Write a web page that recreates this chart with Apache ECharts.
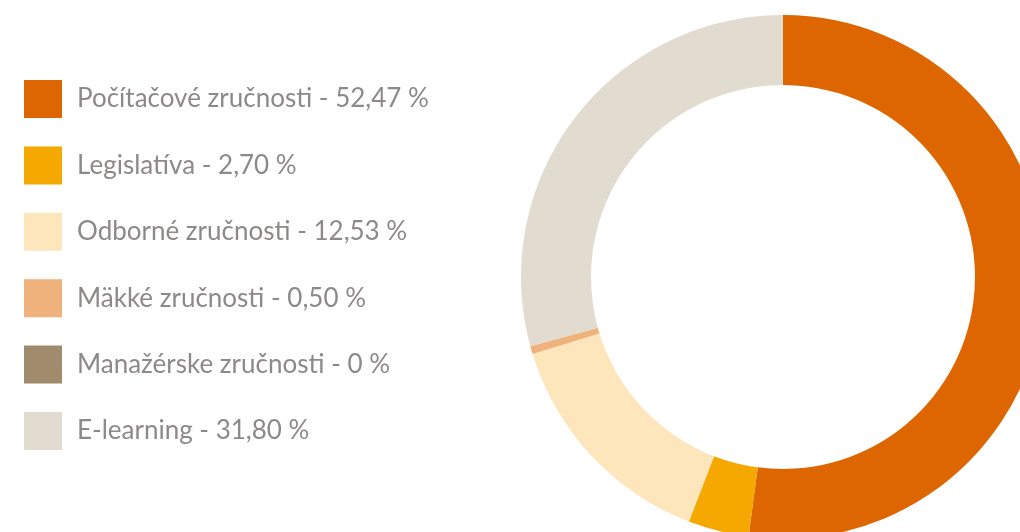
<!DOCTYPE html>
<html>
<head>
<meta charset="utf-8">
<script src="https://cdn.jsdelivr.net/npm/echarts@6/dist/echarts.min.js"></script>
<style>
html,body{margin:0;padding:0;background:#fff;}
#chart{width:1020px;height:532px;}
</style>
</head>
<body>
<div id="chart"></div>
<script>
var names = ['Počítačové zručnosti', 'Legislatíva', 'Odborné zručnosti', 'Mäkké zručnosti', 'Manažérske zručnosti', 'E-learning'];
// percentages as printed in the legend
var labelPercents = ['52,47', '2,70', '12,53', '0,50', '0', '31,80'];
// slice sizes as drawn in the ring
var sliceValues = [52.1, 3.75, 14.4, 0.5, 0, 29.25];
var colors = ['#dd6600', '#f5a800', '#fde5bc', '#efb27c', '#a08c6c', '#e1dbd0'];

var chart = echarts.init(document.getElementById('chart'));
var option = {
    animation: false,
    color: colors,
    legend: {
        orient: 'vertical',
        left: 24,
        top: 80,
        padding: 0,
        icon: 'rect',
        itemWidth: 38,
        itemHeight: 38,
        itemGap: 28.4,
        selectedMode: false,
        textStyle: {
            fontFamily: 'Lato',
            fontSize: 26,
            color: '#8e8989',
            padding: [0, 0, 0, 10]
        },
        formatter: function (name) {
            var i = names.indexOf(name);
            return name + ' - ' + labelPercents[i] + ' %';
        },
        data: names
    },
    series: [
        {
            type: 'pie',
            center: [783, 277],
            radius: [192, 262],
            startAngle: 90,
            clockwise: true,
            label: {show: false},
            labelLine: {show: false},
            emphasis: {disabled: true},
            itemStyle: {borderWidth: 0},
            data: names.map(function (n, i) {
                return {name: n, value: sliceValues[i]};
            })
        }
    ]
};
chart.setOption(option);
</script>
</body>
</html>
